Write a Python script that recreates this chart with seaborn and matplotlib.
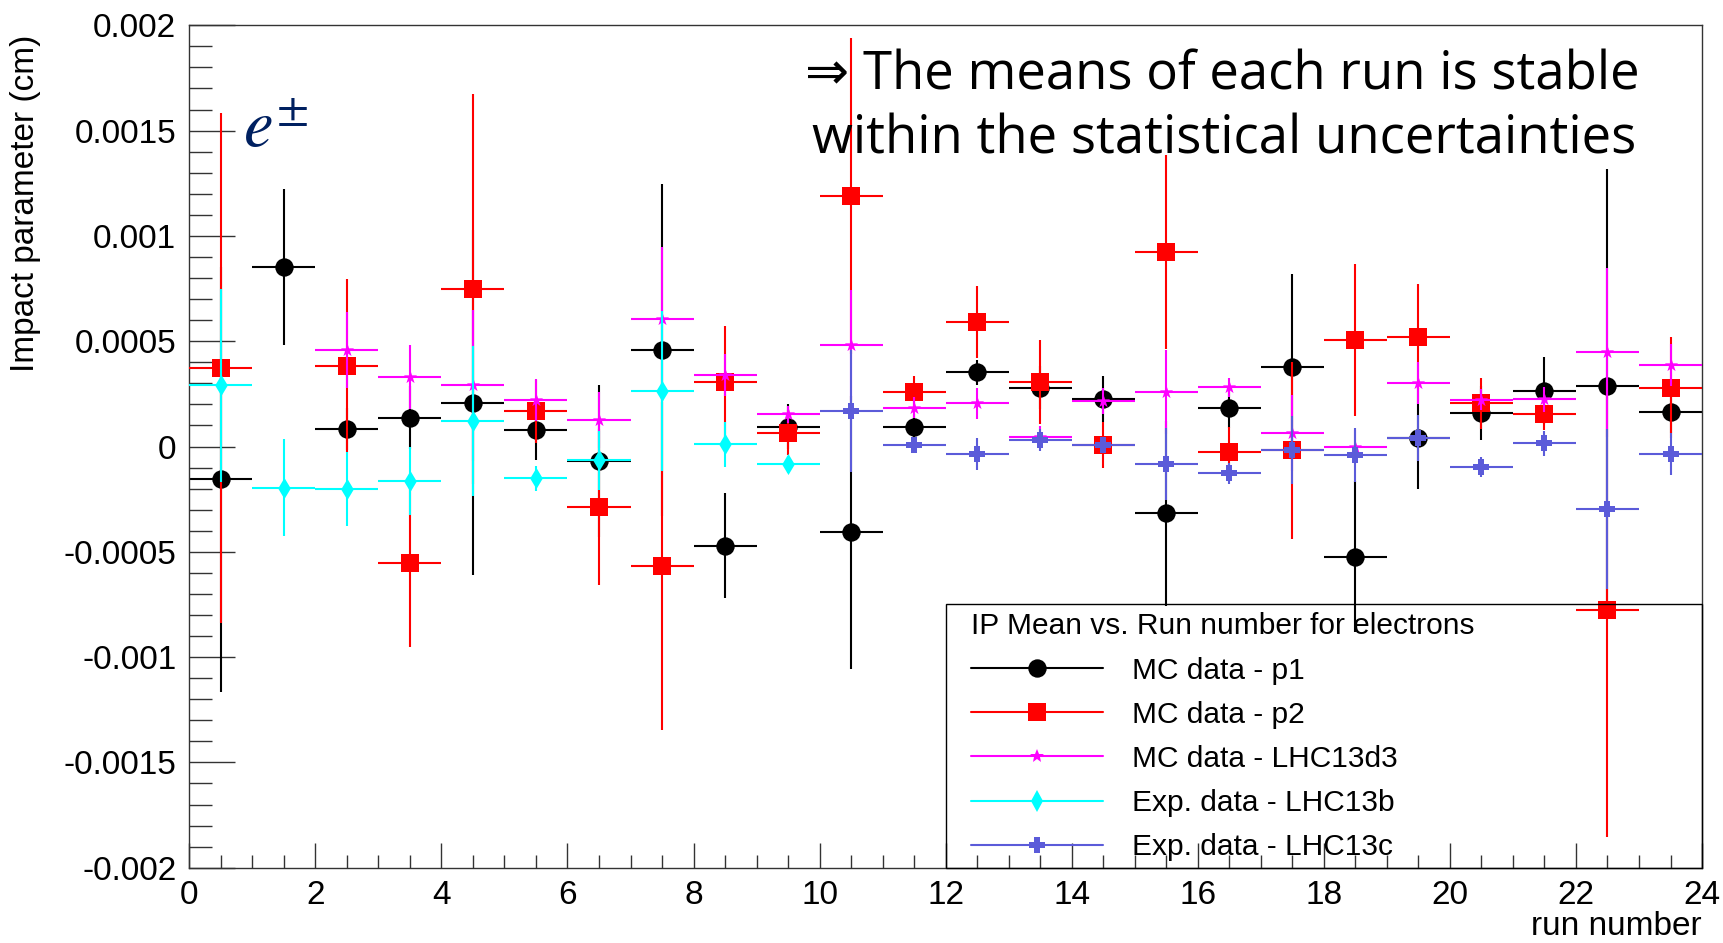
import numpy as np
import pandas as pd
import matplotlib
matplotlib.use("Agg")
import matplotlib.pyplot as plt
import seaborn as sns
from matplotlib.lines import Line2D
from matplotlib.patches import Rectangle
from matplotlib.ticker import MultipleLocator, FuncFormatter

nan = np.nan

# ---------------- data ----------------
run_bins = np.arange(24) + 0.5          # bin centres (run index)
bin_half_width = 0.5

mean_p1 = [-0.000156, 0.000851, 0.000083, 0.000137, 0.000208, 0.000078, -0.000069, 0.000458,
           -0.000471, 0.000094, -0.000408, 0.000094, 0.000352, 0.000280, 0.000226, -0.000317,
           0.000184, 0.000379, -0.000523, 0.000039, 0.000158, 0.000265, 0.000287, 0.000165]
err_p1 = [0.00101, 0.00037, 0.00010, 0.00015, 0.00082, 0.00014, 0.00036, 0.00079,
          0.00025, 0.000106, 0.00065, 0.00006, 0.00006, 0.00010, 0.00011, 0.00044,
          0.000094, 0.00044, 0.00036, 0.00024, 0.000127, 0.00016, 0.00103, 0.00010]

mean_p2 = [0.000374, nan, 0.000384, -0.000552, 0.000749, 0.000167, -0.000288, -0.000567,
           0.000308, 0.0000655, 0.001191, 0.000260, 0.000590, 0.000308, 0.000007, 0.000924,
           -0.000028, -0.000018, 0.000506, 0.000521, 0.000205, 0.000153, -0.000776, 0.000279]
err_p2 = [0.00121, nan, 0.00041, 0.00040, 0.000925, 0.00015, 0.00037, 0.00078,
          0.000264, 0.000106, 0.00075, 0.000075, 0.00017, 0.00020, 0.00011, 0.00046,
          0.00012, 0.00042, 0.00036, 0.00025, 0.00012, 0.000075, 0.00108, 0.00024]

mean_d3 = [nan, nan, 0.000460, 0.000330, 0.000290, 0.000221, 0.000125, 0.000607,
           0.000340, 0.000153, 0.000481, 0.000184, 0.000205, 0.000047, 0.000216, 0.000260,
           0.000282, 0.0000655, -0.000004, 0.000302, 0.000221, 0.000224, 0.000447, 0.000386]
err_d3 = [nan, nan, 0.00018, 0.00015, 0.00036, 0.00010, 0.000134, 0.00034,
          0.00010, 0.00004, 0.00026, 0.00005, 0.000074, 0.00005, 0.00006, 0.00020,
          0.000045, 0.00018, 0.00008, 0.00010, 0.00005, 0.00006, 0.00040, 0.00010]

mean_13b = [0.000290, -0.000195, -0.000203, -0.000165, 0.000120, -0.000151, -0.000066, 0.000262,
            0.000010, -0.000085, nan, nan, nan, nan, nan, nan,
            nan, nan, nan, nan, nan, nan, nan, nan]
err_13b = [0.00046, 0.00023, 0.000175, 0.000162, 0.000356, 0.00006, 0.00014, 0.00038,
           0.000105, 0.00004, nan, nan, nan, nan, nan, nan,
           nan, nan, nan, nan, nan, nan, nan, nan]

mean_13c = [nan, nan, nan, nan, nan, nan, nan, nan,
            nan, nan, 0.000169, 0.000006, -0.000036, 0.000031, 0.000007, -0.000083,
            -0.000128, -0.000017, -0.000040, 0.000039, -0.000096, 0.000015, -0.000298, -0.000036]
err_13c = [nan, nan, nan, nan, nan, nan, nan, nan,
           nan, nan, 0.00029, 0.00003, 0.000075, 0.00005, 0.00004, 0.00017,
           0.00005, 0.00016, 0.00013, 0.00011, 0.000048, 0.00006, 0.00038, 0.00010]

series_labels = ["MC data - p1", "MC data - p2", "MC data - LHC13d3",
                 "Exp. data - LHC13b", "Exp. data - LHC13c"]
series_means = [mean_p1, mean_p2, mean_d3, mean_13b, mean_13c]
series_errs = [err_p1, err_p2, err_d3, err_13b, err_13c]

legend_title = "IP Mean vs. Run number for electrons"
x_label = "run number"
y_label = "Impact parameter (cm)"
note_line1 = "\u21d2 The means of each run is stable"
note_line2 = "within the statistical uncertainties"
particle_label = r"$e^{\pm}$"
x_ticks = list(range(0, 25, 2))
y_ticks = [-0.002, -0.0015, -0.001, -0.0005, 0.0, 0.0005, 0.001, 0.0015, 0.002]

# ---------------- styles ----------------
styles = [
    dict(color="#000000", marker="o", s=175),
    dict(color="#ff0000", marker="s", s=160),
    dict(color="#ff00ff", marker="*", s=100),
    dict(color="#00ffff", marker="d", s=115),
    dict(color="#5b5bd9", marker="P", s=135),
]

sns.set_style("white")
plt.rcParams["font.family"] = ["Liberation Sans", "DejaVu Sans"]
plt.rcParams["axes.unicode_minus"] = False
plt.rcParams["text.color"] = "black"
plt.rcParams["axes.labelcolor"] = "black"
plt.rcParams["legend.labelcolor"] = "black"

rows = []
for lab, means, errs in zip(series_labels, series_means, series_errs):
    for x, v, e in zip(run_bins, means, errs):
        if not np.isnan(v):
            rows.append(dict(series=lab, run=x, mean=v, err=e))
df = pd.DataFrame(rows)

fig = plt.figure(figsize=(17.24, 9.43), dpi=100)
ax = fig.add_axes([0.10981, 0.07985, 0.87744, 0.89332])

for k, lab in enumerate(series_labels):
    sub = df[df["series"] == lab]
    st = styles[k]
    ax.errorbar(sub["run"], sub["mean"], xerr=bin_half_width, yerr=sub["err"], fmt="none",
                ecolor=st["color"], elinewidth=1.5, capsize=0, zorder=2 + 2 * k)
    sns.scatterplot(data=sub, x="run", y="mean", ax=ax, marker=st["marker"], s=st["s"],
                    color=st["color"], linewidth=0, zorder=3 + 2 * k, legend=False)

ax.set_xlabel("")
ax.set_ylabel("")
ax.set_xlim(0, 24)
ax.set_ylim(-0.002, 0.002)
ax.set_xticks(x_ticks)
ax.xaxis.set_minor_locator(MultipleLocator(0.5))
ax.set_yticks(y_ticks)
ax.yaxis.set_minor_locator(MultipleLocator(0.0001))
ax.yaxis.set_major_formatter(FuncFormatter(lambda v, p: "{:g}".format(round(v, 6)) if abs(v) > 1e-12 else "0"))

frame_col = "#333333"
for sp in ax.spines.values():
    sp.set_color(frame_col)
    sp.set_linewidth(1.0)
ax.tick_params(axis="both", which="both", direction="in", top=False, right=False,
               left=True, bottom=True, color=frame_col, width=1.0, labelcolor="black")
ax.tick_params(axis="y", which="major", length=32.9, pad=9.4, labelsize=24)
ax.tick_params(axis="y", which="minor", length=16.8)
ax.tick_params(axis="x", which="major", length=18.2, pad=8.5, labelsize=24)
ax.tick_params(axis="x", which="minor", length=9.6)

# axis titles (ROOT style placement)
fig.text(1702 / 1724, 1 - 935 / 943, x_label, ha="right", va="baseline", fontsize=24, color="black")
fig.text(26 / 1724, 1 - 203.5 / 943, y_label, rotation=90, ha="center", va="center",
         fontsize=24, color="black")

# legend box + legend
ax.add_patch(Rectangle((0.5, 0.0), 0.5, 0.3127, transform=ax.transAxes, fill=False,
                       edgecolor="black", linewidth=1.0, zorder=20, clip_on=False))
handles = [Line2D([], [], color=st["color"], marker=st["marker"], markersize=np.sqrt(st["s"]),
                  lw=1.5, markeredgewidth=0) for st in styles]
leg = ax.legend(handles, series_labels, title=legend_title, loc="upper left",
                bbox_to_anchor=(0.5165, 0.3030), frameon=False, fontsize=21.5,
                title_fontsize=21.5, handlelength=4.43, handletextpad=0.98,
                labelspacing=0.54, borderpad=0, borderaxespad=0, alignment="left")
leg.set_zorder(25)
for t in leg.get_texts():
    t.set_color("black")
leg.get_title().set_color("black")

# annotations
fig.text(1222 / 1724, 1 - 89.3 / 943, note_line1, ha="center", va="baseline", fontsize=38,
         family=["Open Sans", "DejaVu Sans"], color="black")
fig.text(1224 / 1724, 1 - 154 / 943, note_line2, ha="center", va="baseline", fontsize=38,
         family=["Open Sans", "DejaVu Sans"], color="black")
fig.text(243 / 1724, 1 - 147 / 943, particle_label, ha="left", va="baseline", fontsize=48,
         color="#002060", math_fontfamily="stix")

fig.savefig("out.png", dpi=100)
